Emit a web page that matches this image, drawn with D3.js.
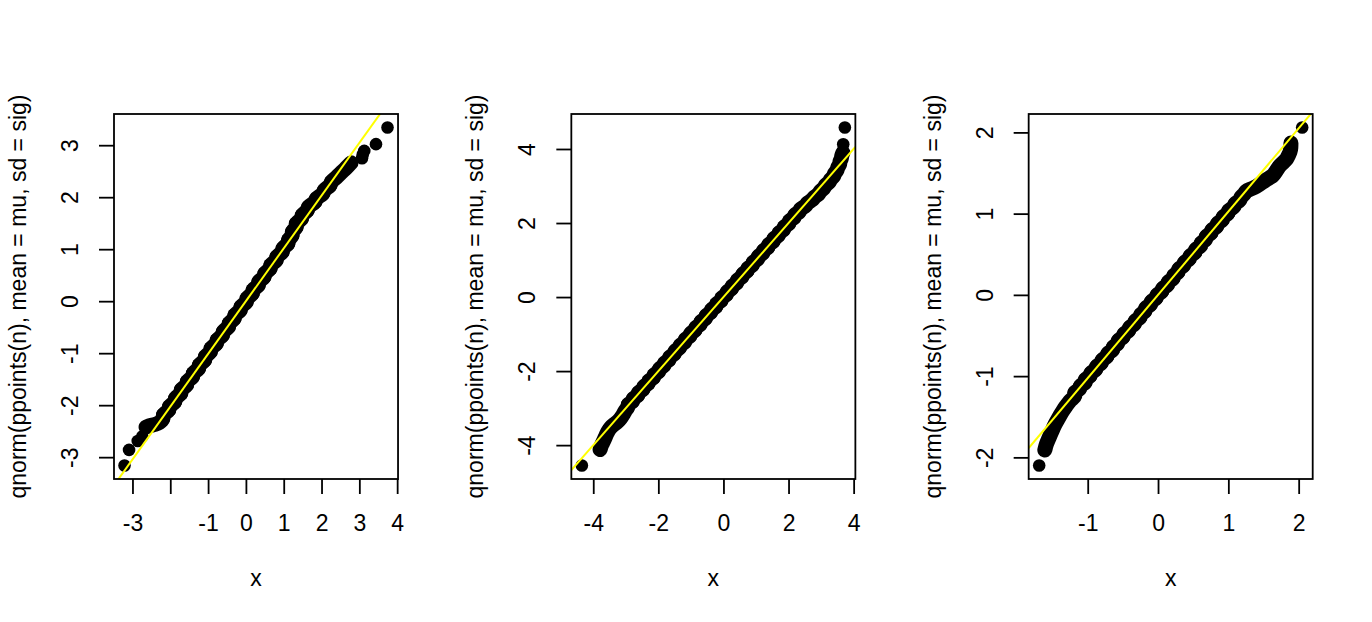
<!DOCTYPE html>
<html>
<head>
<meta charset="utf-8">
<script src="https://cdn.jsdelivr.net/npm/d3@7"></script>
<style>
  body { margin: 0; background: #fff; }
  svg text { font-family: "Liberation Sans", Arial, Helvetica, sans-serif; fill: #000; }
</style>
</head>
<body>
<div class="container"></div>
<script>
// [sample x, theoretical quantile]
const panel1Points = [
  [-3.21, -3.16], [-3.09, -2.86], [-2.86, -2.69], [-2.74, -2.60], [-2.64, -2.42],
  [-2.52, -2.39], [-2.40, -2.37], [-2.29, -2.34], [-2.17, -2.26], [-2.21, -2.18],
  [-2.01, -2.10], [-2.05, -2.02], [-1.85, -1.94], [-1.89, -1.86], [-1.69, -1.78],
  [-1.74, -1.70], [-1.54, -1.62], [-1.58, -1.54], [-1.38, -1.46], [-1.42, -1.38],
  [-1.22, -1.30], [-1.26, -1.22], [-1.06, -1.14], [-1.10, -1.06], [-0.91, -0.98],
  [-0.95, -0.90], [-0.75, -0.82], [-0.79, -0.74], [-0.59, -0.66], [-0.63, -0.58],
  [-0.43, -0.50], [-0.47, -0.42], [-0.28, -0.34], [-0.32, -0.26], [-0.12, -0.18],
  [-0.16, -0.10], [0.04, -0.02], [0.00, 0.06], [0.20, 0.14], [0.16, 0.22],
  [0.36, 0.30], [0.31, 0.38], [0.51, 0.46], [0.47, 0.54], [0.67, 0.62],
  [0.63, 0.70], [0.83, 0.78], [0.79, 0.86], [0.99, 0.94], [0.95, 1.02],
  [1.14, 1.10], [1.10, 1.18], [1.25, 1.26], [1.20, 1.34], [1.36, 1.42],
  [1.30, 1.50], [1.50, 1.58], [1.46, 1.66], [1.65, 1.74], [1.63, 1.82],
  [1.85, 1.90], [1.84, 1.98], [2.06, 2.06], [2.05, 2.14], [2.25, 2.22],
  [2.24, 2.30], [2.40, 2.38], [2.50, 2.46], [2.62, 2.54], [2.70, 2.60],
  [2.78, 2.66], [3.07, 2.75], [3.09, 2.82], [3.13, 2.89], [3.44, 3.02],
  [3.745, 3.34]
];

const panel2Points = [
  [-4.35, -4.55], [-3.79, -4.12], [-3.74, -3.98], [-3.68, -3.89], [-3.62, -3.76],
  [-3.56, -3.64], [-3.47, -3.52], [-3.36, -3.44], [-3.24, -3.36], [-3.16, -3.28],
  [-3.08, -3.18], [-3.02, -3.06], [-2.92, -2.98], [-2.96, -2.90], [-2.76, -2.82],
  [-2.80, -2.74], [-2.60, -2.66], [-2.64, -2.58], [-2.44, -2.50], [-2.48, -2.42],
  [-2.28, -2.34], [-2.32, -2.26], [-2.12, -2.18], [-2.16, -2.10], [-1.96, -2.02],
  [-2.00, -1.94], [-1.80, -1.86], [-1.84, -1.78], [-1.64, -1.70], [-1.68, -1.62],
  [-1.48, -1.54], [-1.52, -1.46], [-1.32, -1.38], [-1.36, -1.30], [-1.16, -1.22],
  [-1.20, -1.14], [-1.00, -1.06], [-1.04, -0.98], [-0.84, -0.90], [-0.88, -0.82],
  [-0.68, -0.74], [-0.72, -0.66], [-0.52, -0.58], [-0.56, -0.50], [-0.36, -0.42],
  [-0.40, -0.34], [-0.20, -0.26], [-0.24, -0.18], [-0.04, -0.10], [-0.08, -0.02],
  [0.12, 0.06], [0.08, 0.14], [0.28, 0.22], [0.24, 0.30], [0.44, 0.38],
  [0.40, 0.46], [0.60, 0.54], [0.56, 0.62], [0.76, 0.70], [0.72, 0.78],
  [0.92, 0.86], [0.88, 0.94], [1.08, 1.02], [1.04, 1.10], [1.24, 1.18],
  [1.20, 1.26], [1.40, 1.34], [1.36, 1.42], [1.56, 1.50], [1.52, 1.58],
  [1.72, 1.66], [1.68, 1.74], [1.88, 1.82], [1.84, 1.90], [2.04, 1.98],
  [2.00, 2.06], [2.20, 2.14], [2.16, 2.22], [2.36, 2.30], [2.34, 2.38],
  [2.54, 2.46], [2.56, 2.54], [2.74, 2.62], [2.78, 2.70], [2.94, 2.78],
  [2.96, 2.86], [3.10, 2.94], [3.12, 3.02], [3.26, 3.10], [3.28, 3.18],
  [3.40, 3.26], [3.40, 3.34], [3.50, 3.42], [3.50, 3.50], [3.58, 3.58],
  [3.57, 3.66], [3.63, 3.74], [3.63, 3.82], [3.67, 3.90], [3.68, 4.13],
  [3.73, 4.58]
];

const panel3Points = [
  [-1.69, -2.10], [-1.61, -1.91], [-1.59, -1.84], [-1.56, -1.78], [-1.53, -1.72],
  [-1.50, -1.66], [-1.47, -1.60], [-1.43, -1.54], [-1.39, -1.48], [-1.35, -1.42],
  [-1.30, -1.36], [-1.26, -1.31], [-1.22, -1.28], [-1.17, -1.24], [-1.20, -1.20],
  [-1.10, -1.16], [-1.12, -1.12], [-1.02, -1.08], [-1.05, -1.04], [-0.95, -1.00],
  [-0.97, -0.96], [-0.87, -0.92], [-0.89, -0.88], [-0.79, -0.84], [-0.81, -0.80],
  [-0.71, -0.76], [-0.73, -0.72], [-0.63, -0.68], [-0.65, -0.64], [-0.56, -0.60],
  [-0.58, -0.56], [-0.48, -0.52], [-0.50, -0.48], [-0.40, -0.44], [-0.42, -0.40],
  [-0.32, -0.36], [-0.34, -0.32], [-0.24, -0.28], [-0.26, -0.24], [-0.17, -0.20],
  [-0.19, -0.16], [-0.09, -0.12], [-0.11, -0.08], [-0.01, -0.04], [-0.03, 0.00],
  [0.07, 0.04], [0.05, 0.08], [0.15, 0.12], [0.13, 0.16], [0.23, 0.20],
  [0.21, 0.24], [0.30, 0.28], [0.28, 0.32], [0.38, 0.36], [0.36, 0.40],
  [0.46, 0.44], [0.44, 0.48], [0.54, 0.52], [0.52, 0.56], [0.62, 0.60],
  [0.60, 0.64], [0.69, 0.68], [0.67, 0.72], [0.77, 0.76], [0.75, 0.80],
  [0.85, 0.84], [0.83, 0.88], [0.93, 0.92], [0.91, 0.96], [1.01, 1.00],
  [0.99, 1.04], [1.09, 1.08], [1.08, 1.12], [1.17, 1.16], [1.17, 1.20],
  [1.23, 1.24], [1.25, 1.28], [1.31, 1.30], [1.37, 1.32], [1.44, 1.36],
  [1.51, 1.40], [1.58, 1.44], [1.64, 1.47], [1.67, 1.51], [1.70, 1.55],
  [1.73, 1.59], [1.78, 1.63], [1.83, 1.67], [1.85, 1.71], [1.88, 1.76],
  [1.89, 1.81], [1.89, 1.87], [2.05, 2.06]
];

const panels = [panel1Points, panel2Points, panel3Points];

// first/last index of the run where the dots overlap into one solid band
const bandRanges = [[4, 70], [1, 98], [1, 91]];

// tick values and labels (R dropped "-2" on the first x axis)
const xTickValues = [[-3, -2, -1, 0, 1, 2, 3, 4], [-4, -2, 0, 2, 4], [-1, 0, 1, 2]];
const xTickLabels = [["-3", "", "-1", "0", "1", "2", "3", "4"], ["-4", "-2", "0", "2", "4"], ["-1", "0", "1", "2"]];
const yTickValues = [[-3, -2, -1, 0, 1, 2, 3], [-4, -2, 0, 2, 4], [-2, -1, 0, 1, 2]];

// reference line: [intercept, slope]
const refLines = [[0, 1.015], [0, 1], [0, 1.025]];

const xTitle = 'x';
const yTitle = 'qnorm(ppoints(n), mean = mu, sd = sig)';

const renderQQPanels = () => {
  const width = 1372;
  const height = 622;
  const figWidth = width / 3;
  const marginLeft = 114;
  const marginRight = 59.3;
  const top = 114;
  const plotHeight = 365;
  const plotWidth = figWidth - marginLeft - marginRight;
  const fontSize = 23;
  const dotRadius = 6.3;

  const svg = d3.select('.container').append('svg').attr('width', width).attr('height', height);

  panels.forEach((points, i) => {
    const left = i * figWidth + marginLeft;
    const g = svg.append('g').attr('class', 'panel').attr('transform', `translate(${left},${top})`);

    // R style 4% padding around the data range
    const pad = ext => {
      const r = ext[1] - ext[0];
      return [ext[0] - 0.04 * r, ext[1] + 0.04 * r];
    };
    const xScale = d3.scaleLinear().domain(pad(d3.extent(points, d => d[0]))).range([0, plotWidth]);
    const yScale = d3.scaleLinear().domain(pad(d3.extent(points, d => d[1]))).range([plotHeight, 0]);

    g.append('clipPath')
      .attr('id', `clip${i}`)
      .append('rect')
      .attr('width', plotWidth)
      .attr('height', plotHeight);

    const marks = g.append('g').attr('clip-path', `url(#clip${i})`);

    //solid band where the dots pile up
    const [b0, b1] = bandRanges[i];
    const bandLine = d3
      .line()
      .curve(d3.curveBasis)
      .x(d => xScale(d[0]))
      .y(d => yScale(d[1]));
    marks
      .append('path')
      .attr('d', bandLine(points.slice(b0, b1 + 1)))
      .attr('fill', 'none')
      .attr('stroke', '#000')
      .attr('stroke-width', 15)
      .attr('stroke-linejoin', 'round')
      .attr('stroke-linecap', 'round');

    //points
    marks
      .selectAll('circle')
      .data(points)
      .join('circle')
      .attr('cx', d => xScale(d[0]))
      .attr('cy', d => yScale(d[1]))
      .attr('r', dotRadius)
      .attr('fill', '#000');

    //yellow reference line
    const [a, b] = refLines[i];
    const xs = xScale.domain();
    const line = d3
      .line()
      .x(d => xScale(d))
      .y(d => yScale(a + b * d));
    marks
      .append('path')
      .attr('d', line(xs))
      .attr('stroke', '#ffff00')
      .attr('stroke-width', 2)
      .attr('fill', 'none');

    //box
    g.append('rect')
      .attr('width', plotWidth)
      .attr('height', plotHeight)
      .attr('fill', 'none')
      .attr('stroke', '#000')
      .attr('stroke-width', 1.8);

    //x axis
    const bottomAxis = d3
      .axisBottom(xScale)
      .tickValues(xTickValues[i])
      .tickFormat((d, k) => xTickLabels[i][k])
      .tickSizeInner(15)
      .tickSizeOuter(0);
    const bottomGroup = g.append('g').attr('transform', `translate(0,${plotHeight})`).call(bottomAxis);
    bottomGroup.select('.domain').remove();
    bottomGroup.selectAll('line').attr('stroke', '#000').attr('stroke-width', 1.8);
    bottomGroup
      .selectAll('text')
      .attr('y', 52)
      .attr('dy', 0)
      .style('font-size', `${fontSize}px`);

    //y axis, labels rotated like R's default las = 0
    const leftAxis = d3
      .axisLeft(yScale)
      .tickValues(yTickValues[i])
      .tickFormat(d3.format('d'))
      .tickSizeInner(15)
      .tickSizeOuter(0);
    const leftGroup = g.append('g').call(leftAxis);
    leftGroup.select('.domain').remove();
    leftGroup.selectAll('line').attr('stroke', '#000').attr('stroke-width', 1.8);
    leftGroup
      .selectAll('text')
      .attr('x', 0)
      .attr('dy', 0)
      .attr('transform', 'translate(-36,0) rotate(-90)')
      .attr('text-anchor', 'middle')
      .style('font-size', `${fontSize}px`);
    // d3 uses the U+2212 minus, R prints a hyphen
    leftGroup.selectAll('text').text(d => String(d));

    //titles
    g.append('text')
      .text(xTitle)
      .attr('x', plotWidth / 2)
      .attr('y', plotHeight + 107)
      .attr('text-anchor', 'middle')
      .style('font-size', `${fontSize}px`);

    g.append('text')
      .text(yTitle)
      .attr('transform', `translate(-88,${plotHeight / 2}) rotate(-90)`)
      .attr('text-anchor', 'middle')
      .style('font-size', `${fontSize}px`);
  });
};

renderQQPanels();
</script>
</body>
</html>
